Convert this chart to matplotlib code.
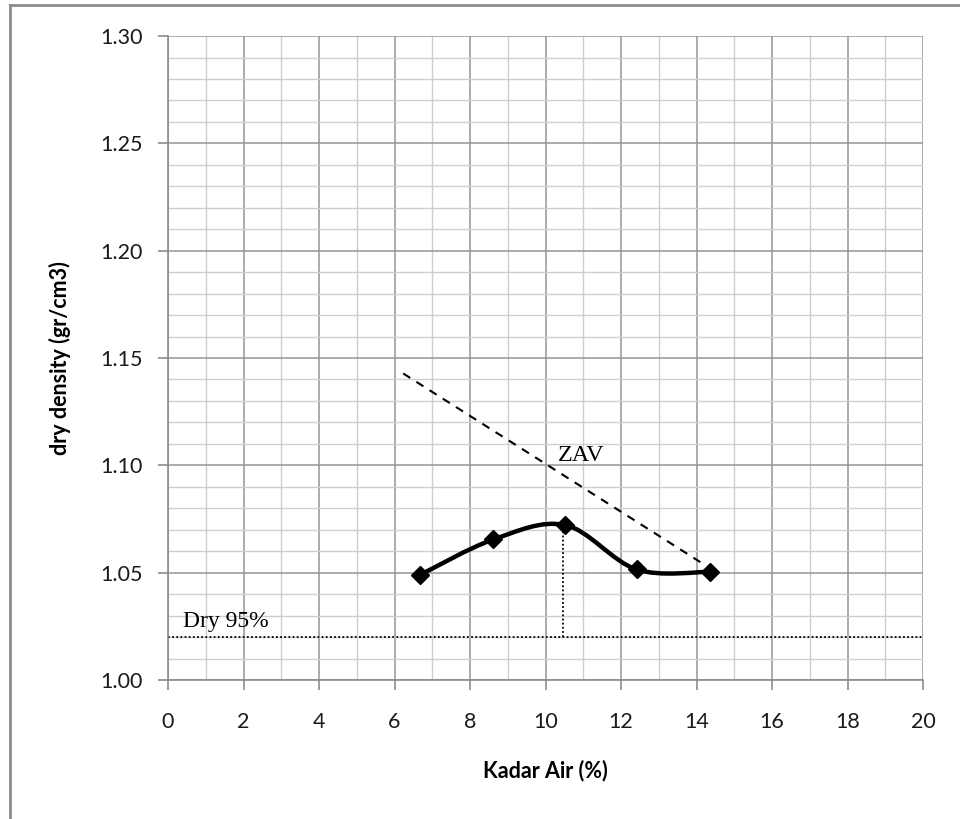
import matplotlib
matplotlib.use('Agg')
import matplotlib.pyplot as plt
from matplotlib.path import Path
from matplotlib.patches import PathPatch
from matplotlib.lines import Line2D
import numpy as np

# compaction test data
kadar_air = [6.68, 8.62, 10.52, 12.41, 14.36]
dry_density = [1.049, 1.0655, 1.0722, 1.0515, 1.0504]

# zero air voids line (end points)
zav_x = [6.23, 14.13]
zav_y = [1.1428, 1.0546]

# 95% dry density level and optimum water content
dry95 = 1.02
w_opt = 10.47

x_ticks = [0, 2, 4, 6, 8, 10, 12, 14, 16, 18, 20]
y_ticks = [1.00, 1.05, 1.10, 1.15, 1.20, 1.25, 1.30]

tick_font = 'Lato'
label_font = 'Lato'
note_font = 'Liberation Serif'


def smooth_path(xs, ys):
	# excel style smoothed line: cubic bezier through the points
	pts = np.column_stack([xs, ys])
	n = len(pts)
	verts = [pts[0]]
	codes = [Path.MOVETO]
	for i in range(n - 1):
		p0 = pts[i - 1] if i > 0 else pts[i]
		p1 = pts[i]
		p2 = pts[i + 1]
		p3 = pts[i + 2] if i + 2 < n else pts[i + 1]
		c1 = p1 + (p2 - p0) / 6.0
		c2 = p2 - (p3 - p1) / 6.0
		verts += [c1, c2, p2]
		codes += [Path.CURVE4] * 3
	return Path(verts, codes)


fig = plt.figure(figsize=(9.6, 8.19), dpi=100)
ax = fig.add_axes([0.175, 0.1697, 0.7865, 0.7863])

ax.set_xlim(0, 20)
ax.set_ylim(1.00, 1.30)

# grid: light minor lines, darker major lines
ax.set_xticks(x_ticks)
ax.set_yticks(y_ticks)
ax.set_xticks(np.arange(0, 21, 1), minor=True)
ax.set_yticks(np.arange(1.00, 1.301, 0.01), minor=True)
ax.grid(which='minor', color='#cfcfcf', linewidth=1.0)
ax.grid(which='major', color='#959595', linewidth=1.1)
ax.set_axisbelow(True)

for side in ['top', 'right']:
	ax.spines[side].set_visible(False)
for side in ['left', 'bottom']:
	ax.spines[side].set_color('#8c8c8c')
	ax.spines[side].set_linewidth(1.2)

ax.tick_params(which='major', direction='out', length=7, width=1.2, color='#8c8c8c',
	labelsize=15.5, labelcolor='#1a1a1a')
ax.tick_params(axis='x', which='major', pad=16)
ax.tick_params(axis='y', which='major', pad=11)
ax.tick_params(which='minor', length=0)
ax.set_xticklabels([str(t) for t in x_ticks], fontfamily=tick_font)
ax.set_yticklabels(['%.2f' % t for t in y_ticks], fontfamily=tick_font)

ax.set_xlabel('Kadar Air (%)', fontsize=15.5, fontweight='bold', fontfamily=label_font, labelpad=20)
ax.set_ylabel('dry density (gr/cm3)', fontsize=15.5, fontweight='bold', fontfamily=label_font, labelpad=21)

# dry 95% line and optimum water content
ax.axhline(dry95, color='black', linewidth=1.3, linestyle=(0, (1, 1.3)))
ax.plot([w_opt, w_opt], [dry95, max(dry_density)], color='black', linewidth=1.3, linestyle=(0, (1, 1.3)))

# zero air voids
ax.plot(zav_x, zav_y, color='black', linewidth=1.5, linestyle=(0, (4, 3.5)))

# smoothed compaction curve with markers
ax.add_patch(PathPatch(smooth_path(kadar_air, dry_density), facecolor='none',
	edgecolor='black', linewidth=3.2, capstyle='round', joinstyle='round'))
ax.plot(kadar_air, dry_density, linestyle='none', marker='D', markersize=9,
	color='black', zorder=5)

ax.text(0.4, 1.0245, 'Dry 95%', fontsize=17, fontfamily=note_font, va='baseline')
ax.text(10.33, 1.1018, 'ZAV', fontsize=17.5, fontfamily=note_font, va='baseline')

# chart frame (only top and left edges visible)
fig.add_artist(Line2D([9.5 / 960, 9.5 / 960], [0, 1 - 5 / 819], transform=fig.transFigure,
	color='#8c8c8c', linewidth=2))
fig.add_artist(Line2D([9.5 / 960, 1], [1 - 5 / 819, 1 - 5 / 819], transform=fig.transFigure,
	color='#8c8c8c', linewidth=2))

fig.savefig('out.png', dpi=100)
